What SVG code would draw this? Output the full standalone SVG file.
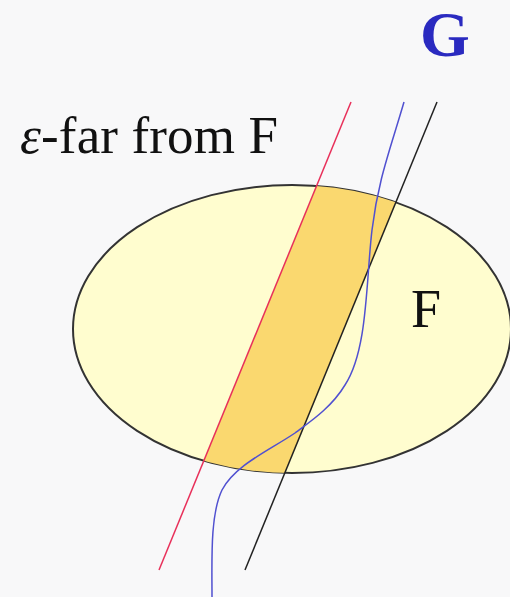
<svg xmlns="http://www.w3.org/2000/svg" width="510" height="597" viewBox="0 0 510 597">
<defs>
<style>
.txt{font-family:"Liberation Serif","Times New Roman",serif;fill:#111}
.ln{fill:none;stroke-width:1.5}
</style>
<clipPath id="ec"><ellipse cx="292" cy="329" rx="219" ry="144"/></clipPath>
</defs>
<rect width="510" height="597" fill="#F8F8F9"/>
<g id="F">
<ellipse cx="292" cy="329" rx="219" ry="144" fill="#FFFDCF" stroke="#333" stroke-width="2"/>
<polygon points="351,102 437,102 245,570 159,570" fill="#FAD86F" clip-path="url(#ec)"/>
<text class="txt" x="411" y="327" font-size="54">F</text>
</g>
<g id="connectors">
<line class="ln" x1="351" y1="102" x2="159" y2="570" stroke="#E8305A"/>
<line class="ln" x1="437" y1="102" x2="245" y2="570" stroke="#222"/>
<path class="ln" stroke="#5050D0" d="M404,102 C390,150 378,180 372,230 C366,280 368,350 345,385 C330,410 305,425 295,433 C270,450 235,465 222,490 C210,515 212,560 212,597"/>
</g>
<g id="label">
<text class="txt" x="20" y="153" font-size="53" textLength="258" lengthAdjust="spacing"><tspan font-style="italic">ε</tspan>-far from F</text>
</g>
<g id="G">
<text x="420" y="56" font-size="64" font-weight="bold" font-family="Liberation Serif,'Times New Roman',serif" fill="#2A2AC0">G</text>
</g>
</svg>
